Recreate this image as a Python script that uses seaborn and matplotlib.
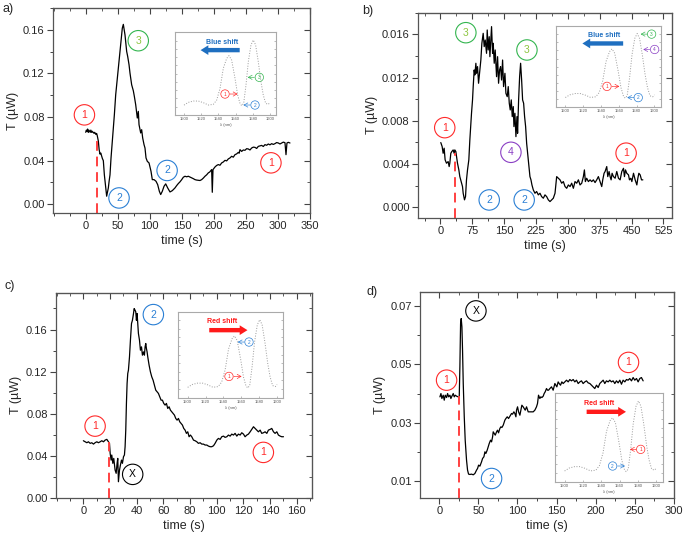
import matplotlib
matplotlib.use("Agg")
import matplotlib.pyplot as plt
import seaborn as sns
from matplotlib.ticker import AutoMinorLocator, FormatStrFormatter

sns.set_style("ticks")
plt.rcParams['font.family'] = ['Liberation Sans', 'DejaVu Sans']

RED = '#ff2a2a'
BLUE = '#2a7fd4'
GREEN = '#33b54f'
LIME = '#8dc63f'
PURPLE = '#8a3fc4'
SHIFT_BLUE = '#1f6fc0'

# ---------------- panel a ----------------
a_time = [0, 1, 2, 3, 4, 5, 6, 7, 8, 9, 10, 11, 12, 13, 14, 15, 16, 17, 18,
          19.7, 21, 22.3, 23.5, 24.9, 26, 27.5, 29.1, 31.2, 32.7, 34, 35.3, 36.5, 37.9,
          39.5, 41.5, 44.7, 46.8, 49.9, 52.5, 55.1, 57.1, 58.7, 61.3, 63.9, 65.5, 67.6,
          69.1, 71.7, 74.3, 75.9, 78, 79.5, 80.5, 82.1, 83.2, 85.8, 87.3, 88.9, 91, 92.5,
          94.1, 96.1, 98.8, 101.9, 103.9, 106.6, 109.7, 112.3, 114.9, 117, 119.5, 122.2,
          124.8, 127.9, 131.5, 135.1, 139.3, 142, 144.5, 147, 149.8, 152.3, 154.9, 157.5,
          160.1, 162.7, 165.3, 167.9, 170.5, 173.1, 175.7, 178.3, 180.9, 183.5, 186.1,
          188.7, 191.3, 193.5, 195.4, 196.5, 197.5, 198.6, 201.7, 204.3, 206.9, 209.5,
          212.1, 214.7, 217.3, 219.9, 222.5, 225.1, 227.7, 230.3, 232.9, 235.5, 238.1,
          239.4, 240.7, 243.3, 245.9, 248.5, 251.1, 253.7, 256.3, 258.9, 261.5, 264.1,
          266.7, 269.3, 271.9, 274.5, 277.1, 279.7, 282.3, 284.9, 287.5, 290.1, 292.7,
          295.3, 297.9, 300.5, 303.1, 305.7, 308.3, 310.9, 312.5, 314, 316.1, 318.7]
a_T = [0.066, 0.068, 0.067, 0.069, 0.066, 0.068, 0.067, 0.066, 0.068, 0.066, 0.067,
       0.066, 0.066, 0.065, 0.066, 0.065, 0.064, 0.065, 0.063,
       0.058, 0.050, 0.046, 0.047, 0.044, 0.042, 0.040, 0.027, 0.015, 0.0074, 0.011,
       0.015, 0.021, 0.027, 0.0425, 0.058, 0.082, 0.1005, 0.119, 0.134, 0.149, 0.1615,
       0.165, 0.1554, 0.1402, 0.1356, 0.128, 0.1203, 0.1096, 0.1041, 0.0989, 0.0913,
       0.0837, 0.0791, 0.0852, 0.073, 0.0654, 0.0684, 0.0608, 0.0547, 0.0516, 0.0425,
       0.0394, 0.0379, 0.0302, 0.0226, 0.0226, 0.0211, 0.018, 0.0119, 0.0089, 0.0119,
       0.0165, 0.0187, 0.015, 0.0113, 0.0125, 0.0150, 0.0172, 0.019, 0.0205, 0.0226,
       0.0248, 0.0257, 0.0252, 0.0257, 0.0250, 0.0242, 0.0235, 0.0226, 0.0222, 0.022,
       0.0218, 0.0226, 0.0240, 0.0257, 0.0270, 0.0288, 0.0296, 0.0309, 0.0318, 0.011,
       0.0318, 0.0342, 0.0356, 0.0364, 0.0358, 0.0379, 0.0388, 0.0403, 0.0398, 0.0416,
       0.0425, 0.044, 0.0432, 0.0455, 0.0462, 0.0476, 0.0468, 0.0501, 0.0485, 0.0498,
       0.0495, 0.0510, 0.0507, 0.0498, 0.0516, 0.0524, 0.0522, 0.0512, 0.0531, 0.0536,
       0.054, 0.0530, 0.0547, 0.0541, 0.0553, 0.0545, 0.0556, 0.0549, 0.0556, 0.0566,
       0.0562, 0.0553, 0.0562, 0.0570, 0.0565, 0.0455, 0.0562, 0.0568, 0.0562]

# ---------------- panel b ----------------
b_time = [0.7, 3.9, 6.2, 8.6, 10.9, 14.1, 18, 20.4, 21.9, 24.3, 26.6, 29.8, 32.1, 33.7,
          36.1, 37.7, 40, 43.2, 45.5, 49.5, 51.8, 53.4, 56.5, 58.9, 61.2, 63.6, 66.7, 69.1,
          73, 75.4, 77, 79.3, 80.9, 83.3, 84.8, 87.2, 89.6, 92.7, 95, 97.4, 100.5, 102.9,
          105.3, 108.4, 110, 112.3, 114.7, 116.3, 118.6, 120.2, 122.6, 124.1, 126.5, 128.8,
          132, 134.4, 136.7, 139.1, 141.4, 143.8, 146.2, 148.5, 151.7, 154, 157.1, 159.5,
          161.9, 164.2, 166.6, 168.9, 171.3, 172.9, 175.2, 177.6, 180, 181.5, 183.9, 186.3,
          188.6, 191, 193.3, 195.7, 198, 200.4, 202.8, 205.1, 207.5, 210.6, 213, 215.3,
          218.5, 222.4, 226.3, 230.3, 234.2, 238.1, 242.1, 246, 249.9, 253.8, 257.8, 261.7,
          265.6, 269.6, 273.5, 277.4, 281.4, 285.3, 289.2, 293.2, 297.1, 301, 305, 308.9,
          312.8, 316.7, 320.7, 324.6, 328.5, 332.5, 336.4, 338.8, 341.1, 344.2, 348.2,
          352.1, 356, 359.9, 363.9, 367.8, 371.7, 375.7, 379.6, 382, 385.1, 387.5, 391.4,
          393.8, 396.9, 399.3, 401.7, 404, 407.2, 411.1, 415, 419, 422.9, 426.8, 430.8,
          433.1, 435.5, 438.6, 442.6, 444.9, 448.1, 450.5, 454.4, 458.3, 462.3, 464.6, 467,
          470.1, 473.3, 476.4]
b_T = [0.00598, 0.00561, 0.00499, 0.00546, 0.00438, 0.00407, 0.00422, 0.00376, 0.00407,
       0.00499, 0.00515, 0.0053, 0.00499, 0.0053, 0.00515, 0.00468, 0.00407, 0.00345,
       0.00283, 0.00222, 0.00191, 0.00129, 0.00068, 0.00098, 0.00253, 0.00345, 0.00438,
       0.00623, 0.00869, 0.00993, 0.01116, 0.0127, 0.01224, 0.01332, 0.01239, 0.01301,
       0.01147, 0.0127, 0.01362, 0.01517, 0.01609, 0.01486, 0.01547, 0.01424, 0.0164,
       0.01455, 0.01578, 0.01393, 0.01547, 0.01671, 0.01424, 0.01517, 0.01332, 0.01455,
       0.01208, 0.01393, 0.01147, 0.0127, 0.01301, 0.01177, 0.01362, 0.01116, 0.01239,
       0.01054, 0.01023, 0.01116, 0.00962, 0.009, 0.00993, 0.00838, 0.00931, 0.00746,
       0.00869, 0.00653, 0.00838, 0.00684, 0.00993, 0.01208, 0.01332, 0.01177, 0.00993,
       0.00962, 0.00838, 0.00746, 0.00592, 0.00499, 0.00407, 0.00283, 0.00253, 0.00206,
       0.0016, 0.00129, 0.00145, 0.00114, 0.00129, 0.00098, 0.00083, 0.00114, 0.00098,
       0.00068, 0.00052, 0.00068, 0.00083, 0.00129, 0.00283, 0.00268, 0.00253, 0.00222,
       0.00237, 0.00191, 0.00175, 0.00206, 0.00191, 0.00222, 0.00175, 0.00237, 0.00222,
       0.00253, 0.00206, 0.00222, 0.00283, 0.00345, 0.00237, 0.00268, 0.00237, 0.00253,
       0.00237, 0.00253, 0.00228, 0.00253, 0.00283, 0.00237, 0.00191, 0.00253, 0.00314,
       0.0033, 0.00376, 0.00283, 0.0033, 0.00283, 0.00253, 0.00314, 0.00283, 0.00268,
       0.0033, 0.00268, 0.00253, 0.0033, 0.0036, 0.00283, 0.00345, 0.00314, 0.00299,
       0.00253, 0.00268, 0.00237, 0.00314, 0.00253, 0.00206, 0.00268, 0.00314, 0.00299,
       0.00253, 0.00253]

# ---------------- panel c ----------------
c_time = [0, 1.3, 2.6, 3.8, 5.1, 6.3, 7.6, 8.8, 10.1, 11.3, 12.6, 13.8, 15.1, 16.3, 17.6,
          18.8, 19.6, 20.1, 20.8, 21.3, 22.1, 22.8, 23.8, 24.6, 25.3, 25.8, 26.3, 27.1, 27.8,
          28.6, 29.3, 30.1, 30.8, 31.3, 31.8, 32.3, 32.8, 33.3, 33.8, 34.6, 35.3, 36.1, 36.8,
          37.6, 38.1, 38.8, 39.3, 39.8, 40.3, 40.8, 41.3, 42.1, 42.8, 43.6, 44.3, 45.1, 45.8,
          46.3, 46.8, 47.3, 47.8, 48.3, 49.3, 50.3, 51.3, 52.3, 53.3, 54.3, 55.3, 56.3, 57.3,
          58.3, 59.3, 60.3, 61.3, 62.3, 63.3, 64.3, 65.3, 66.3, 67.3, 68.3, 69.3, 70.3, 71.3,
          72.3, 73.3, 74.3, 75.3, 76.3, 77.3, 78.3, 79.3, 80.3, 81.3, 82.6, 83.8, 85.1, 86.3,
          87.6, 88.8, 90.1, 91.3, 92.6, 93.8, 95.1, 96.3, 97.6, 98.8, 100.1, 101.3, 102.6,
          103.8, 105.1, 106.3, 107.6, 108.8, 110.1, 111.3, 112.6, 113.8, 115.1, 116.3, 117.6,
          118.8, 120.1, 121.3, 122.6, 123.8, 125.1, 126.3, 127.6, 128.8, 130.1, 131.3, 132.6,
          133.8, 135.1, 136.3, 137.6, 138.8, 140.1, 141.3, 142.6, 143.8, 145.1, 146.3, 147.6,
          148.8, 150.1]
c_T = [0.0542, 0.0532, 0.0523, 0.0532, 0.0517, 0.0523, 0.051, 0.0523, 0.0532, 0.0523,
       0.0532, 0.0542, 0.0532, 0.0548, 0.0555, 0.0532, 0.0517, 0.0422, 0.0358, 0.0406,
       0.0327, 0.0374, 0.0263, 0.0232, 0.0327, 0.0374, 0.0152, 0.0263, 0.0311, 0.0358,
       0.0327, 0.039, 0.0406, 0.0485, 0.0643, 0.0897, 0.1087, 0.1182, 0.1213, 0.134,
       0.1498, 0.1657, 0.1688, 0.1752, 0.1799, 0.1783, 0.1768, 0.1688, 0.1752, 0.1657,
       0.1562, 0.1498, 0.1403, 0.1435, 0.1356, 0.1387, 0.1356, 0.1435, 0.1467, 0.1419,
       0.1387, 0.134, 0.1261, 0.1197, 0.115, 0.1118, 0.1071, 0.1023, 0.1007, 0.0992,
       0.096, 0.0928, 0.0928, 0.0897, 0.0881, 0.0897, 0.0849, 0.0865, 0.0833, 0.0817,
       0.0802, 0.0786, 0.0754, 0.0738, 0.0754, 0.0722, 0.0707, 0.0691, 0.0659, 0.0643,
       0.0612, 0.0627, 0.058, 0.0596, 0.058, 0.0548, 0.0542, 0.0532, 0.0517, 0.0523, 0.051,
       0.051, 0.0501, 0.0501, 0.0491, 0.0485, 0.0485, 0.0494, 0.0517, 0.0548, 0.0564,
       0.0555, 0.058, 0.0586, 0.0574, 0.058, 0.0596, 0.0586, 0.0605, 0.0596, 0.0612,
       0.0586, 0.0605, 0.0596, 0.0618, 0.0605, 0.058, 0.0596, 0.0605, 0.0627, 0.065,
       0.0675, 0.0659, 0.0643, 0.0627, 0.0643, 0.0612, 0.0618, 0.0627, 0.0612, 0.0643,
       0.065, 0.0659, 0.0627, 0.0612, 0.0627, 0.0596, 0.0586, 0.058, 0.058]

# ---------------- panel d ----------------
d_time = [0.9, 2.2, 3.4, 5.1, 6.4, 7.7, 9.4, 10.7, 12, 13.7, 14.9, 16.2, 17.9, 19.2, 20.5,
          22.2, 24.3, 25.6, 26.4, 27.3, 28.1, 29, 29.8, 30.7, 32, 33.2, 34.9, 36.2, 37.5,
          39.2, 41.3, 43.5, 45.6, 47.7, 49, 50.3, 52, 54.1, 55.4, 57.1, 58.4, 59.6, 61.3,
          62.6, 63.9, 65.6, 66.9, 68.2, 69, 70.3, 71.6, 73.3, 74.5, 75.8, 77.5, 78.8, 80.1,
          81.8, 83.9, 85.2, 86.9, 88.6, 90.3, 92.4, 93.7, 95.4, 96.7, 98, 98.8, 100.1, 101.4,
          103.1, 104.3, 105.6, 107.3, 108.6, 109.9, 111.6, 113.7, 115.8, 118, 120.1, 122.2,
          124.3, 125.6, 126.9, 128.6, 129.9, 131.2, 132.9, 134.1, 135.4, 137.1, 138.4, 139.7,
          141.4, 143.5, 145.6, 147.8, 149, 150.3, 152, 153.3, 155, 156.7, 158.4, 160.5,
          162.7, 164.8, 166.9, 169, 171.2, 173.3, 175.4, 177.6, 179.7, 181.8, 183.9, 186.1,
          188.2, 190.3, 192.5, 194.6, 196.7, 198.8, 201, 203.1, 205.2, 207.4, 209.5, 211.6,
          213.7, 215.9, 218, 220.1, 222.3, 224.4, 226.5, 228.6, 230.8, 232.9, 235, 237.2,
          239.3, 241.4, 243.5, 245.7, 247.8, 249.9, 252.1, 254.2, 256.3, 258.4, 260.6]
d_T = [0.03886, 0.04, 0.03829, 0.03943, 0.03772, 0.03943, 0.03863, 0.04, 0.03886,
       0.03943, 0.03829, 0.03909, 0.04, 0.03886, 0.03943, 0.03909, 0.03886, 0.03909,
       0.04916, 0.06405, 0.06577, 0.0629, 0.05489, 0.04344, 0.0320, 0.02398, 0.01711,
       0.01368, 0.0123, 0.01219, 0.0123, 0.01207, 0.01253, 0.01368, 0.01425, 0.01539,
       0.01505, 0.01654, 0.01768, 0.01826, 0.01997, 0.0194, 0.02054, 0.02169, 0.02283,
       0.02398, 0.0234, 0.02512, 0.02684, 0.02627, 0.0257, 0.02684, 0.02741, 0.0265,
       0.02799, 0.02856, 0.02833, 0.02913, 0.03085, 0.03142, 0.0320, 0.03142, 0.03222,
       0.03314, 0.03291, 0.03371, 0.03314, 0.0320, 0.03428, 0.03543, 0.03371, 0.03256,
       0.03428, 0.036, 0.03543, 0.03486, 0.03428, 0.03543, 0.03371, 0.03371, 0.03371,
       0.03371, 0.03428, 0.03543, 0.03657, 0.03943, 0.03829, 0.03886, 0.03863, 0.0391,
       0.04, 0.04058, 0.04172, 0.04115, 0.04115, 0.04172, 0.0423, 0.04115, 0.04344,
       0.04287, 0.0423, 0.04401, 0.04344, 0.04287, 0.04401, 0.04344, 0.04401, 0.04459,
       0.04401, 0.04482, 0.04436, 0.04482, 0.04401, 0.04459, 0.04344, 0.04401, 0.04436,
       0.04344, 0.04401, 0.04436, 0.04367, 0.04344, 0.04287, 0.0423, 0.04172, 0.04287,
       0.04207, 0.04344, 0.04401, 0.04459, 0.04344, 0.04436, 0.04401, 0.04459, 0.04401,
       0.04436, 0.04344, 0.04436, 0.04367, 0.04459, 0.04321, 0.04459, 0.04401, 0.04482,
       0.04459, 0.04516, 0.04436, 0.0455, 0.04459, 0.04516, 0.04401, 0.04516, 0.0455,
       0.04436]

# inset transmission spectrum (same resonance shape in every inset)
spec_wl = [1500, 1505, 1510.9, 1516.7, 1522.5, 1528.3, 1534.1, 1538, 1541.9, 1545.7,
           1549.6, 1552.3, 1555.4, 1559.3, 1562.4, 1565.1, 1567.1, 1569.4, 1572.1, 1574.8,
           1577.9, 1580.6, 1583.3, 1586.4, 1589.5, 1592.2, 1595, 1598.1, 1600]
spec_int = [0.12, 0.153, 0.169, 0.169, 0.149, 0.121, 0.129, 0.181, 0.323, 0.565, 0.685,
            0.718, 0.665, 0.444, 0.242, 0.141, 0.113, 0.141, 0.363, 0.645, 0.847, 0.907,
            0.847, 0.645, 0.403, 0.242, 0.141, 0.129, 0.153]
spec_ticks = [1500, 1520, 1540, 1560, 1580, 1600]

fig = plt.figure(figsize=(6.85, 5.38), dpi=100)


def main_axes(rect, time, T, xlim, ylim, xticks, yticks, fmt):
    ax = fig.add_axes(rect)
    sns.lineplot(x=time, y=T, ax=ax, color='black', lw=0.9, estimator=None, sort=False)
    ax.set_xlim(*xlim)
    ax.set_ylim(*ylim)
    ax.set_xticks(xticks)
    ax.set_yticks(yticks)
    ax.yaxis.set_major_formatter(FormatStrFormatter(fmt))
    ax.xaxis.set_minor_locator(AutoMinorLocator(2))
    ax.yaxis.set_minor_locator(AutoMinorLocator(2))
    ax.tick_params(which='major', direction='out', length=4, width=0.8,
                   labelsize=8, color='#444444', pad=2)
    ax.tick_params(which='minor', direction='out', length=2, width=0.7, color='#444444')
    for s in ax.spines.values():
        s.set_color('#555555')
        s.set_linewidth(0.9)
    top = ax.secondary_xaxis('top')
    top.set_xticks(xticks)
    top.xaxis.set_minor_locator(AutoMinorLocator(2))
    top.tick_params(which='both', direction='in', labeltop=False, color='#444444')
    top.tick_params(which='major', length=4)
    top.tick_params(which='minor', length=2)
    top.spines['top'].set_color('#555555')
    right = ax.secondary_yaxis('right')
    right.set_yticks(yticks)
    right.yaxis.set_minor_locator(AutoMinorLocator(2))
    right.tick_params(which='both', direction='in', labelright=False, color='#444444')
    right.tick_params(which='major', length=4)
    right.tick_params(which='minor', length=2)
    right.spines['right'].set_color('#555555')
    ax.set_xlabel('time (s)', fontsize=9, labelpad=3)
    ax.set_ylabel('T (\u00b5W)', fontsize=9, labelpad=3)
    return ax


def circ(ax, x, y, s, edge, tcol=None, fs=7.5, pad=0.5, lw=0.8):
    ax.text(x, y, s, ha='center', va='center', fontsize=fs, color=tcol or edge,
            bbox=dict(boxstyle='circle,pad=%.2f' % pad, fc='none', ec=edge, lw=lw), zorder=5)


def inset(rect, label, color, arrow_dir, marks):
    ax = fig.add_axes(rect)
    sns.lineplot(x=spec_wl, y=spec_int, ax=ax, color='#9a9a9a', lw=0.7, ls=':',
                 estimator=None, sort=False)
    ax.set_xlim(1489.5, 1607)
    ax.set_ylim(0, 1)
    ax.set_xticks(spec_ticks)
    ax.set_xticklabels([str(v) for v in spec_ticks])
    ax.set_yticks([0.1, 0.2, 0.3, 0.4, 0.5, 0.6, 0.7, 0.8, 0.9])
    ax.set_yticklabels([])
    ax.tick_params(axis='x', labelsize=3, length=1.5, width=0.4, pad=1.5,
                   color='#888888', labelcolor='#555555', direction='in')
    ax.tick_params(axis='y', length=1.5, width=0.4, direction='in', right=True,
                   color='#888888')
    for s in ax.spines.values():
        s.set_color('#aaaaaa')
        s.set_linewidth(0.8)
    ax.set_xlabel('\u03bb (nm)', fontsize=3, labelpad=1.5, color='#555555')
    ax.set_ylabel('')
    ax.set_facecolor('white')
    # shift arrow
    if arrow_dir == 'left':
        x0, x1 = 1568, 1516
        tx = 1544
    else:
        x0, x1 = 1521, 1570
        tx = 1538
    ax.annotate('', xy=(x1, 0.785), xytext=(x0, 0.785),
                arrowprops=dict(arrowstyle='simple,head_width=1.0,head_length=0.8,tail_width=0.45',
                                color=color, mutation_scale=7, lw=0))
    ax.text(tx, 0.88, label, color=color, fontsize=5, fontweight='bold',
            ha='center', va='center')
    for (cx, cy, s, ecol, ax_x0, ax_x1) in marks:
        ax.text(cx, cy, s, ha='center', va='center', fontsize=3.5, color=ecol,
                bbox=dict(boxstyle='circle,pad=0.35', fc='none', ec=ecol, lw=0.5))
        ax.annotate('', xy=(ax_x1, cy), xytext=(ax_x0, cy),
                    arrowprops=dict(arrowstyle='->,head_width=0.25,head_length=0.45',
                                    color=ecol, lw=0.5, ls=(0, (1.5, 0.8)),
                                    mutation_scale=6, shrinkA=0, shrinkB=0))
    return ax


# ---- a) ----
ax = main_axes([0.0774, 0.6041, 0.3752, 0.381], a_time, a_T, (-51, 350), (-0.008, 0.18),
               [0, 50, 100, 150, 200, 250, 300, 350], [0, 0.04, 0.08, 0.12, 0.16], '%.2f')
a_trig, a_trig_top = 18, 0.063
ax.vlines(a_trig, -0.008, a_trig_top, colors='#ff4040', linestyles=(0, (5, 3)), lw=1.4)
circ(ax, -2, 0.082, '1', RED)
circ(ax, 52, 0.0058, '2', BLUE)
circ(ax, 82, 0.150, '3', GREEN, LIME)
circ(ax, 127, 0.031, '2', BLUE)
circ(ax, 289, 0.038, '1', RED)
inset([0.2555, 0.7862, 0.1474, 0.1537], 'Blue shift', SHIFT_BLUE, 'left',
      [(1547.7, 0.254, '1', RED, 1553.5, 1562.4),
       (1587.6, 0.456, '3', GREEN, 1581.8, 1574),
       (1582.6, 0.121, '2', BLUE, 1576.7, 1569)])

# ---- b) ----
ax = main_axes([0.6102, 0.5948, 0.3708, 0.3816], b_time, b_T, (-53, 545), (-0.001, 0.018),
               [0, 75, 150, 225, 300, 375, 450, 525], [0, 0.004, 0.008, 0.012, 0.016], '%.3f')
b_trig, b_trig_top = 35, 0.0050
ax.vlines(b_trig, -0.001, b_trig_top, colors='#ff4040', linestyles=(0, (5, 3)), lw=1.4)
circ(ax, 10, 0.00736, '1', RED)
circ(ax, 59.7, 0.01615, '3', GREEN, LIME)
circ(ax, 203.5, 0.01455, '3', GREEN, LIME)
circ(ax, 165.8, 0.00508, '4', PURPLE)
circ(ax, 114.7, 0.00067, '2', BLUE)
circ(ax, 197, 0.00067, '2', BLUE)
circ(ax, 437, 0.0050, '1', RED)
inset([0.8117, 0.8006, 0.1528, 0.1511], 'Blue shift', SHIFT_BLUE, 'left',
      [(1546.7, 0.257, '1', RED, 1552.4, 1560.7),
       (1596.8, 0.90, '3', GREEN, 1591.9, 1584.4),
       (1600.2, 0.711, '4', PURPLE, 1594.6, 1587.4),
       (1581.8, 0.119, '2', BLUE, 1576.9, 1569.3)])

# ---- c) ----
ax = main_axes([0.0818, 0.0749, 0.3733, 0.381], c_time, c_T, (-20.5, 171.3), (0, 0.195),
               [0, 20, 40, 60, 80, 100, 120, 140, 160], [0, 0.04, 0.08, 0.12, 0.16], '%.2f')
c_trig, c_trig_top = 19.3, 0.0532
ax.vlines(c_trig, 0, c_trig_top, colors='#ff4040', linestyles=(0, (5, 3)), lw=1.4)
circ(ax, 8.8, 0.0681, '1', RED)
circ(ax, 52.5, 0.1742, '2', BLUE)
circ(ax, 37, 0.0222, 'X', 'black')
circ(ax, 135, 0.0431, '1', RED)
inset([0.2603, 0.2608, 0.1533, 0.1599], 'Red shift', '#ff1a1a', 'right',
      [(1568.6, 0.647, '2', BLUE, 1563, 1555.9),
       (1546.2, 0.247, '1', RED, 1551.8, 1560.4)])

# ---- d) ----
ax = main_axes([0.6131, 0.0749, 0.3708, 0.3829], d_time, d_T, (-24.6, 300), (0.0042, 0.075),
               [0, 50, 100, 150, 200, 250, 300], [0.01, 0.03, 0.05, 0.07], '%.2f')
d_trig, d_trig_top = 25.2, 0.0391
ax.vlines(d_trig, 0.0042, d_trig_top, colors='#ff4040', linestyles=(0, (5, 3)), lw=1.4)
circ(ax, 9.4, 0.0446, '1', RED)
circ(ax, 46.9, 0.0684, 'X', 'black')
circ(ax, 66.9, 0.0108, '2', BLUE)
circ(ax, 241.9, 0.0507, '1', RED)
inset([0.8102, 0.1047, 0.1572, 0.1654], 'Red shift', '#ff1a1a', 'right',
      [(1583, 0.363, '1', RED, 1577.9, 1571.3),
       (1552.4, 0.176, '2', BLUE, 1557.9, 1565.9)])

fig.text(0.003, 0.995, 'a)', fontsize=9, va='top', ha='left')
fig.text(0.528, 0.99, 'b)', fontsize=9, va='top', ha='left')
fig.text(0.006, 0.48, 'c)', fontsize=9, va='top', ha='left')
fig.text(0.535, 0.468, 'd)', fontsize=9, va='top', ha='left')

fig.savefig('out.png', dpi=100)
